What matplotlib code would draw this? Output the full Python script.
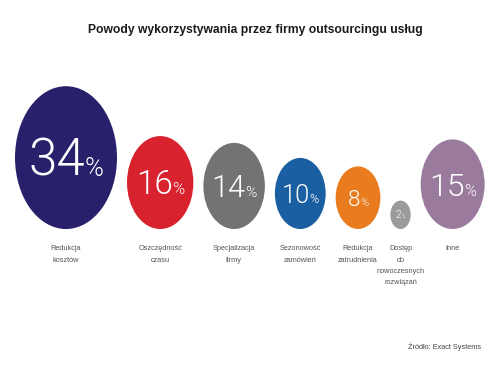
import numpy as np
import matplotlib
matplotlib.use("Agg")
import matplotlib.pyplot as plt
from matplotlib.patches import Ellipse

# dane
categories = ["Redukcja\nkosztów", "Oszczędność\nczasu", "Specjalizacja\nfirmy",
              "Sezonowość\nzamówień", "Redukcja\nzatrudnienia",
              "Dostęp\ndo\nnowoczesnych\nrozwiązań", "Inne"]
values = [34, 16, 14, 10, 8, 2, 15]
colors = ["#28206b", "#d8232f", "#737373", "#1b5fa3", "#e97c1e", "#9b9b9b", "#9b7b9d"]

title = "Powody wykorzystywania przez firmy outsourcingu usług"
source = "Źródło: Exact Systems"

W, H = 500, 375
fig = plt.figure(figsize=(W / 100, H / 100), dpi=100)
ax = fig.add_axes([0, 0, 1, 1])
ax.set_xlim(0, W)
ax.set_ylim(H, 0)
ax.axis("off")

sans = ["Liberation Sans", "DejaVu Sans"]
digits = ["Roboto", "DejaVu Sans"]

# rozmiar kół z wartości
vmax = max(values)
widths = [102 * (v / vmax) ** 0.57 for v in values]
aspect = 1.4
gap = 10
bottom = 229
x = 15
centers = []
for w in widths:
    centers.append(x + w / 2)
    x += w + gap

fig.canvas.draw()
r = fig.canvas.get_renderer()
for cx, w, v, c, lab in zip(centers, widths, values, colors, categories):
    h = w * aspect
    cy = bottom - h / 2
    ax.add_patch(Ellipse((cx, cy), w, h, color=c, lw=0))
    fs = 0.36 * w
    t1 = ax.text(cx, cy + fs * 0.5, str(v), color="white", fontsize=fs,
                 family=digits, fontweight=300, ha="left", va="baseline")
    t2 = ax.text(cx, cy + fs * 0.5, "%", color="white", fontsize=fs * 0.5,
                 family=digits, fontweight=300, ha="left", va="baseline")
    w1 = t1.get_window_extent(r).width
    w2 = t2.get_window_extent(r).width
    x0 = cx - (w1 + w2) / 2
    t1.set_x(x0)
    t2.set_x(x0 + w1)
    ax.text(cx, 245, lab, ha="center", va="top", fontsize=5.3, color="#555555",
            family=sans, linespacing=1.9)

ax.text(255, 30, title, ha="center", va="center", fontsize=8.7,
        fontweight="bold", family=sans, color="#1a1a1a")
ax.text(481, 347, source, ha="right", va="center", fontsize=5.3,
        family=sans, color="#444444")

fig.savefig("out.png", dpi=100)
